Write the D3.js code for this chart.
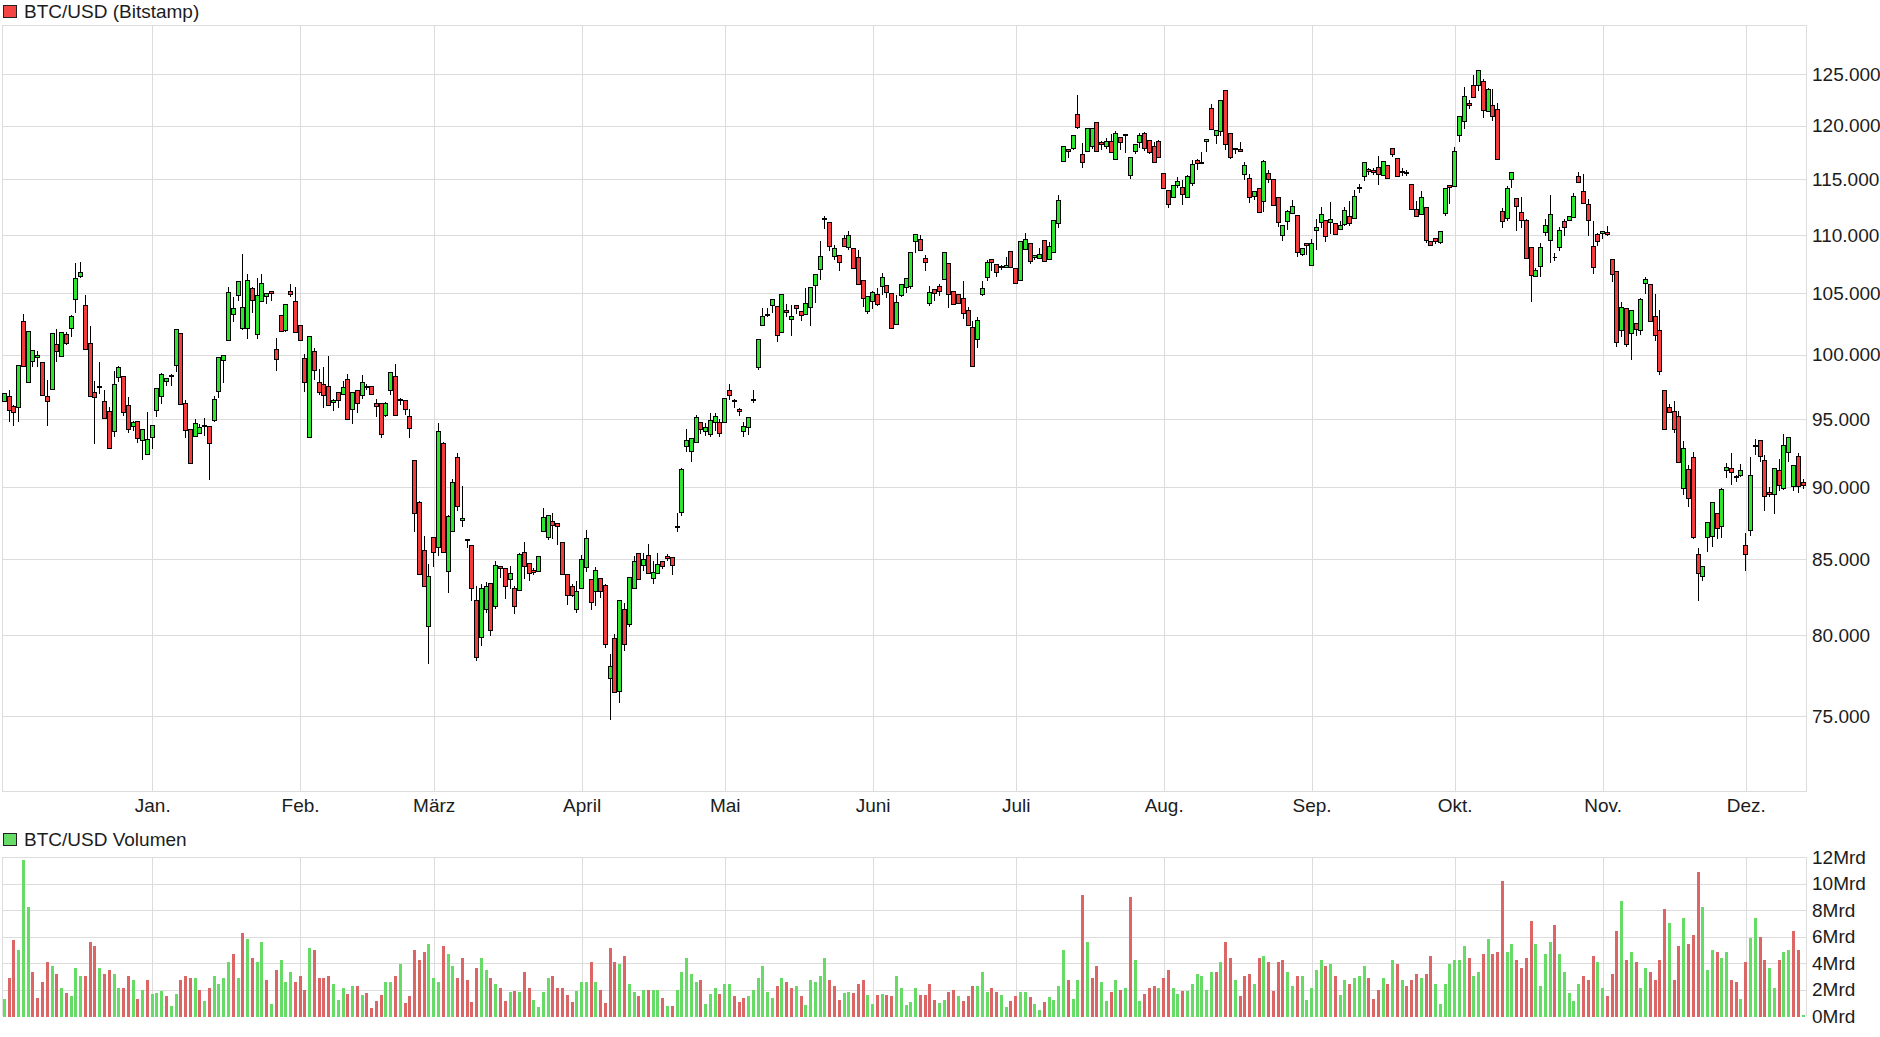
<!DOCTYPE html>
<html>
<head>
<meta charset="utf-8">
<title>BTC/USD</title>
<script src="https://cdn.jsdelivr.net/npm/d3@7"></script>
<style>
  html, body { margin: 0; background: #fff; overflow: hidden; }
  text { font-family: "Liberation Sans", Arial, sans-serif; font-size: 19px; fill: #1c1c1c; }
  .axis line, .frame { stroke: #dcdcdc; shape-rendering: crispEdges; }
  .axis path { display: none; }
  .axis text { font-size: 19px; }
</style>
</head>
<body>
<svg id="chart" width="1880" height="1037"></svg>
<script>
// Candle values in thousand USD, one per day (red and green)
const highs = [
  97.03,97.29,96.12,99.17,103.39,101.94,100.40,100.40,99.45,98.07,
  101.77,102.18,101.85,101.94,103.31,107.62,107.76,104.92,102.42,97.99,
  99.48,97.29,96.02,98.78,99.17,98.36,96.80,94.93,94.85,94.34,
  95.62,94.56,97.42,98.67,98.23,98.52,102.10,101.85,96.56,94.34,
  95.08,94.73,95.16,94.49,96.87,99.87,100,105.63,104.78,106.03,
  108.39,106.72,105.60,106.38,106.72,105,105.17,101.45,103.23,104.11,
  105.86,105.63,102.50,100.16,101.53,100.65,98.98,99.09,99.95,96.64,
  97.19,97.99,98.54,97.19,97.27,98.46,97.81,97.58,96.64,96.25,
  96.41,98.67,99.38,96.72,96.56,95.86,
  91.99,89.10,86.62,84.76,86.53,94.80,93.38,88.08,90.66,92.57,
  90.15,86.46,86.02,83.29,83.36,83.55,83.36,84.93,84.54,84.41,
  84.61,83.29,85.49,86.25,84.74,84.47,85.21,88.57,88.13,88.26,
  87.50,86.18,84.01,83.42,83.62,85.35,87.08,83.68,84.54,83.75,
  83.42,78.89,80.13,82.24,82.17,83.88,85.28,85.42,85.49,86.06,
  84.93,85.44,84.87,85.42,85.21,88.26,91.47,
  94.36,93.60,95.39,94.78,94.78,95.55,95.55,95.08,
  96.64,97.76,96.64,95.94,94.85,95.16,97.34,101.37,103.90,103.90,
  104.60,103.95,104.92,104.19,104.11,104.03,103.55,105.52,105.52,106.64,
  109.55,111.79,111.16,109.22,108.28,110.09,110.45,108.88,108.79,106.12,
  104.76,105.26,105.52,106.81,105.69,105.00,104.92,105.78,106.38,108.55,
  110.09,110.09,108.36,105.69,105.34,105.86,108.55,107.59,105.17,104.92,
  106.12,103.95,102.82,103.14,106.15,107.93,108.02,107.50,107.50,108.19,
  108.62,107.16,109.48,110.27,109.31,108.36,108.97,109.55,109.48,111.34,
  113.66,118.02,117.83,119.15,123.01,118.40,119.81,119.81,120.48,118.59,
  118.87,119.34,119.62,118.96,119.34,117.08,118.30,119.43,119.53,118.59,
  118.49,118.77,115.66,114.02,114.46,115.28,115.03,115.47,116.82,116.98,
  117.64,118.77,122.21,119.72,122.50,123.46,119.34,117.92,118.52,116.70,
  115.57,113.93,114.20,116.89,115.94,115.09,113.39,110.89,112.32,113.21,
  111.79,108.88,109.31,109.74,111.52,112.53,111.34,113.04,111.07,111.34,
  112.59,113.07,114.11,114.64,116.60,116.13,116.13,117.26,116.70,116.32,
  117.92,117.08,116.13,115.94,114.55,113.13,114.02,112.50,109.48,109.74,
  110.45,114.20,114.46,118.02,120.96,123.85,122.60,125.00,125.50,124.62,
  123.75,123.65,122.31,112.50,114.46,115.66,113.30,113.42,111.52,108.97,
  107.24,109.40,111.46,113.60,108.53,110.80,111.52,111.70,113.84,115.75,
  115.57,113.30,111.34,110.27,110.36,110.89,107.93,106.90,104.35,103.79,
  103.63,102.58,104.68,106.47,105.78,105.00,103.71,97.34,96.25,96.43,
  95.70,93.46,91.64,92.60,85.83,84.54,87.57,88.96,88.19,90.00,
  91.84,92.57,90.96,91.76,86.81,92.28,93.60,93.53,92.43,90.07,
  91.47,92.13,93.97,93.68,91.62,92.57,90.66
];
const bodyTops = [
  97.03,96.77,95.99,99.17,102.74,101.94,100.40,100.00,99.45,96.80,
  101.77,100.89,101.85,101.69,103.15,106.29,106.81,104.03,100.97,97.11,
  97.53,96.41,95.62,97.73,99.06,98.36,96.09,94.78,94.85,94.26,
  93.53,94.56,97.42,98.44,98.20,98.39,102.10,101.77,96.25,94.26,
  94.71,94.41,94.56,94.49,96.56,99.84,100,105.09,103.79,106.03,
  103.87,106.12,105.43,104.84,105.86,105,105.17,100.48,103.23,104.11,
  105.17,104.35,102.42,99.77,101.53,100.32,97.89,97.66,97.58,96.48,
  97.11,97.50,98.05,97.11,97.27,97.89,97.58,97.58,96.25,96.25,
  96.25,98.67,98.36,96.56,96.48,95.23,
  91.99,88.96,85.63,83.88,86.53,94.12,93.24,87.99,90.37,92.21,
  87.85,86.39,85.97,82.30,83.03,83.16,83.36,84.61,84.52,84.41,
  84.08,83.09,85.35,85.49,84.74,84.28,85.21,87.92,88.06,87.64,
  87.50,86.18,84.01,83.22,82.89,85.00,86.46,83.68,84.28,83.75,
  83.29,78.09,79.81,82.24,81.71,83.82,84.87,85.42,85.00,85.28,
  84.14,84.67,84.87,85.21,85.14,87.29,91.32,
  93.46,93.60,95.16,94.78,94.41,94.93,95.23,94.78,
  96.64,97.27,96.48,95.78,94.49,95.16,96.56,101.29,103.14,103.31,
  104.52,103.95,104.92,103.63,103.14,104.03,103.55,104.19,105.52,106.64,
  108.19,111.46,111.16,108.88,108.28,109.74,110.00,108.88,108.10,106.12,
  104.76,105.09,104.92,106.38,105.69,105.00,104.27,105.78,106.29,108.55,
  110.09,109.66,108.02,105.09,105.34,105.60,108.55,107.59,105.17,104.92,
  104.60,103.63,102.26,102.82,105.43,107.67,107.93,107.50,107.30,107.41,
  108.62,107.16,109.48,109.66,109.31,108.22,108.36,109.55,109.05,111.34,
  113.13,118.02,117.83,119.15,121.15,117.36,119.81,119.81,120.38,118.40,
  118.49,118.49,119.34,118.96,119.21,117.08,118.21,119.15,119.34,118.59,
  118.11,118.49,115.57,114.02,114.46,114.82,114.29,115.28,116.42,116.79,
  116.60,118.77,121.73,119.62,122.50,123.46,119.25,117.92,117.83,116.32,
  115.09,113.93,114.20,116.70,115.57,115.00,113.39,110.89,112.14,112.59,
  111.79,108.88,109.31,109.31,110.71,111.87,111.34,111.43,111.07,110.89,
  112.23,111.70,113.48,114.29,116.60,115.94,115.85,116.13,116.70,116.32,
  117.92,116.98,115.75,115.66,114.55,112.32,113.39,112.50,109.48,109.74,
  110.36,114.20,114.46,117.64,120.96,122.88,122.21,123.94,125.40,124.33,
  123.56,122.02,121.63,112.14,114.20,115.66,113.30,112.05,111.34,108.97,
  106.98,108.97,110.89,111.87,108.10,110.45,111.25,111.70,113.48,115.28,
  113.93,112.77,109.05,110.09,110.36,110.27,107.93,106.90,103.87,103.79,
  103.63,102.58,104.52,106.21,105.78,103.15,102.02,97.27,95.94,95.62,
  95.23,92.87,91.32,92.21,85.35,84.54,87.57,88.96,88.19,89.86,
  91.47,91.40,90.81,91.25,85.97,90.88,93.09,93.46,91.99,89.65,
  91.40,91.25,93.09,93.68,91.62,92.28,90.37
];
const bodyBottoms = [
  96.38,95.70,95.55,95.94,99.14,97.89,99.53,99.84,96.87,96.41,
  97.34,100.32,99.92,100.94,102.18,104.52,106.47,100.48,96.80,96.72,
  97.47,95.08,92.87,94.12,98.28,95.55,94.26,94.49,93.60,93.46,
  92.43,93.68,95.70,96.80,97.94,98.33,99.22,96.17,94.19,91.76,
  93.75,93.97,94.51,93.24,94.93,97.16,99.61,101.21,103.31,104.84,
  102.18,102.18,104.44,101.69,104.35,104.76,105.00,99.69,101.94,102.02,
  104.92,101.85,101.21,97.89,93.68,98.83,97.11,96.87,96.09,96.33,
  96.48,96.95,95.00,95.78,96.25,96.87,97.50,96.95,96.02,93.90,
  95.31,97.27,95.31,96.48,95.78,94.34,
  88.19,84.01,83.16,80.59,85.49,85.83,85.49,84.21,86.94,88.68,
  87.71,86.32,83.09,78.64,79.88,81.71,80.33,81.91,84.41,83.16,
  83.68,81.91,82.96,84.54,84.08,84.14,84.21,86.88,86.53,87.36,
  87.29,84.01,82.63,82.57,81.71,83.03,84.47,82.17,82.83,82.89,
  79.44,77.35,76.48,76.54,79.44,80.72,83.09,83.68,84.61,84.08,
  83.75,84.08,84.54,85.07,84.61,87.22,88.26,
  93.01,92.65,93.31,94.27,94.12,93.90,94.78,93.97,
  94.78,96.85,96.41,95.62,94.12,94.41,96.48,99.06,102.42,103.23,
  104.01,101.61,101.85,103.47,102.90,103.79,103.23,103.31,103.87,105.69,
  107.07,111.40,109.05,108.19,107.67,109.05,108.97,107.16,105.78,104.60,
  103.55,104.35,104.11,105.60,105.09,102.18,102.50,104.84,105.52,105.60,
  109.48,108.72,107.67,104.19,105.00,105.17,106.21,104.92,104.11,104.19,
  103.39,102.42,99.14,101.29,104.92,106.38,107.67,106.81,107.24,107.24,
  107.24,105.86,106.12,108.79,107.76,108.10,108.02,107.76,107.93,108.55,
  111.07,116.70,117.64,117.92,119.91,116.60,117.64,118.02,117.64,118.21,
  118.11,117.55,116.89,118.40,119.15,115.38,117.64,118.40,117.92,117.55,
  116.60,117.08,114.20,112.77,113.39,114.46,113.66,113.39,114.64,116.51,
  116.51,118.49,119.72,119.15,119.53,118.30,117.04,117.80,117.64,115.47,
  113.39,113.48,112.05,113.04,115.00,112.68,111.16,110.00,111.25,111.96,
  108.53,108.36,109.14,107.41,110.45,111.16,109.91,111.16,110.09,110.54,
  110.98,111.07,111.52,114.23,115.28,115.75,115.66,115.47,115.38,115.09,
  117.36,115.28,115.66,115.53,112.32,111.70,111.87,109.57,109.14,109.48,
  109.40,111.96,114.29,114.38,119.06,120.48,122.02,122.79,123.94,121.54,
  121.44,120.96,116.89,111.25,111.52,115.00,112.59,111.34,108.02,106.55,
  106.47,107.33,110.27,109.57,108.05,108.97,110.71,111.34,111.61,114.73,
  112.86,111.34,107.24,109.48,110.18,110.09,106.64,101.05,102.02,100.89,
  101.77,102.10,102.02,105.86,102.74,101.61,98.75,94.26,95.55,94.26,
  91.84,89.93,89.24,86.53,84.08,83.88,86.53,86.60,87.15,87.29,
  91.25,91.10,90.76,90.88,85.35,87.01,93.01,92.28,89.37,89.51,
  89.51,90.15,89.93,92.57,90.07,90.07,90.15
];
const lows = [
  96.38,94.90,94.53,94.90,99.14,97.89,99.09,99.09,96.87,94.58,
  97.34,99.48,99.92,100.86,101.48,103.49,106.35,100.48,96.80,93.21,
  96.98,95.08,92.87,93.73,97.92,95.34,94.02,94.22,93.28,92.03,
  92.43,92.84,95.26,96.20,97.60,97.60,98.70,96.17,93.63,91.76,
  93.73,93.97,93.80,90.56,94.85,96.67,97.84,101.21,102.69,104.41,
  102.10,101.34,103.49,101.34,104.35,104.22,104.46,98.78,101.94,101.94,
  104.78,101.85,101.21,97.14,93.68,98.05,96.90,95.96,96.09,95.73,
  95.96,96.95,95.00,94.73,95.57,96.59,97.34,96.95,95.26,93.65,
  95.21,96.93,95.31,96.17,95.39,93.70,
  86.90,84.01,83.16,78.25,84.52,85.25,85.49,82.81,86.94,88.38,
  87.25,85.81,82.28,78.43,79.40,81.49,80.02,81.75,83.82,82.41,
  83.07,81.43,82.96,83.75,83.60,83.99,84.21,86.88,86.37,86.46,
  86.02,84.01,82.02,82.50,81.49,83.03,84.21,81.69,81.95,82.48,
  79.24,74.86,76.48,75.84,79.07,80.59,83.09,83.68,84.25,84.08,
  83.40,84.08,84.39,84.93,83.99,86.90,88.03,
  92.60,91.89,93.31,93.97,93.82,93.73,94.22,93.73,
  94.78,96.51,95.91,95.29,93.73,93.87,96.30,98.88,102.42,103.12,
  103.44,101.10,101.85,103.12,101.59,103.39,102.80,103.31,102.39,104.25,
  106.18,110.60,108.68,107.93,106.95,109.05,108.79,107.16,105.78,103.98,
  103.36,103.82,104.03,104.92,104.70,102.18,102.50,104.76,105.14,105.43,
  108.55,108.72,107.01,104.01,104.41,104.87,106.21,103.84,104.11,104.19,
  102.98,102.42,99.14,100.65,104.84,106.09,106.95,106.49,107.07,107.24,
  107.24,105.86,106.12,108.79,107.59,107.93,107.96,107.76,107.93,108.55,
  110.68,116.70,117.01,117.83,119.78,116.10,117.64,117.92,117.64,117.83,
  117.92,117.55,116.89,117.74,117.52,115.06,117.42,117.99,117.70,117.45,
  116.60,117.08,114.20,112.47,113.39,114.26,112.74,113.39,114.46,115.91,
  116.51,117.58,119.72,118.37,119.06,117.80,116.95,117.42,117.64,114.97,
  112.92,113.18,112.05,112.14,114.73,112.68,110.77,109.54,110.51,111.96,
  108.16,108.28,108.33,107.41,108.76,110.74,109.45,110.18,110.09,110.54,
  110.86,110.89,111.52,113.81,114.88,115.44,115.47,114.52,115.38,115.09,
  117.14,115.28,115.41,115.35,112.32,111.70,111.87,109.40,109.08,109.31,
  109.31,111.79,112.86,114.38,118.55,119.78,121.67,122.79,123.40,120.83,
  121.44,120.54,116.89,110.68,111.31,114.26,110.42,110.68,108.02,104.33,
  106.47,106.44,109.97,107.64,107.79,108.71,109.97,111.34,111.61,114.73,
  112.86,109.97,106.70,109.14,109.71,109.97,106.01,100.73,101.51,100.73,
  99.69,101.61,101.69,105.00,102.74,101.21,98.49,94.26,95.55,94.04,
  91.84,89.49,88.66,86.46,82.28,83.60,85.53,85.88,86.46,86.53,
  90.71,90.20,90.42,90.78,84.28,86.67,92.43,91.89,88.38,89.35,
  88.17,89.77,89.86,91.86,89.77,89.65,89.91
];
// g = green body, r = red body, d = doji (flat body)
const candleColors = [
  "grrgrgggrr","grgrgggrrr","drrggrrgrg","gggggdgrrr","ggdrgggggg",
  "ggrgggrrrg","rrrrgrrrrg","rgrgrgdrrr","ggrdrrrrrg","rgrggrgdrr",
  "ggrgrrgrgr","rrgggrrrrr","gggrgrrgrg","rggrgrggrr","rdggggrggg",
  "rgrdrggdgg","dgrgrgrrgg","ggdrgrrgrr","rggrgrrggg","ggrrgrrgrr",
  "rrrrgggrrd","grrggrdgrg","gggrgrrggr","rgrgrdgggr","rrrrrggrgg",
  "rdgrggrrdr","grgrgrrrgg","grgrgggrgr","ggrgdgrrrg","rrrdrrrgrr",
  "rggrgggrrg","rgrrrggrrr","rggggdgrgg","rrrrrgrrrg","rgrggrrrrr",
  "rrgrrrgggr","ggrdgrgdrr","rgrgggrr"
].join("");

// Volume in Mrd, one bar per day
const volumes = [
  1.25,2.85,5.7,4.95,11.8,8.2,3.35,1.35,2.55,4.05,
  3.75,3.2,2.1,1.7,1.5,3.6,3.0,3.0,5.6,5.3,
  3.65,3.15,3.45,3.2,2.15,2.1,3.0,2.7,1.25,2.0,
  2.75,1.65,1.7,1.85,1.5,0.75,1.65,2.75,3.05,2.9,
  2.9,1.95,1.1,2.15,3.0,2.45,2.9,4.1,4.65,2.9,
  6.25,5.8,4.35,4.05,5.6,2.75,0.9,3.45,4.2,2.55,
  3.35,2.55,3.0,1.95,5.1,5.0,2.85,2.9,3.05,2.4,
  1.2,2.1,1.65,2.25,2.25,1.55,1.7,0.6,1.1,1.55,
  2.55,2.55,3.05,3.95,0.95,1.5,5.0,4.2,4.85,5.4,
  2.9,2.55,5.3,4.7,3.8,2.9,4.35,2.7,1.05,3.65,
  4.35,3.45,2.9,2.45,2.1,1.1,1.8,1.85,1.8,3.3,
  2.15,1.2,0.65,1.8,2.9,3.0,2.15,2.15,1.55,1.05,
  1.85,2.6,2.6,4.05,2.6,2.0,0.95,5.1,4.1,3.9,
  4.5,2.4,1.8,1.5,1.95,1.95,2.0,1.95,1.35,0.75,
  0.75,1.95,3.35,4.4,3.2,2.55,2.75,0.9,1.65,2.15,
  1.65,2.45,2.45,1.5,1.05,1.35,1.5,2.0,2.85,3.75,
  1.8,1.35,2.25,2.9,2.55,2.1,2.25,1.5,0.8,2.75,
  2.55,3.05,4.35,2.7,2.3,1.2,1.7,1.8,1.7,2.45,
  2.7,1.55,0.9,1.55,1.65,1.55,1.5,3.05,2.1,0.8,
  1.05,2.15,1.55,1.55,2.45,1.2,0.95,1.2,1.8,2.0,
  1.5,1.1,1.5,2.25,2.3,3.35,1.8,2.1,1.8,1.55,
  0.65,1.1,1.5,1.8,1.8,1.4,0.9,0.45,1.05,1.4,
  1.2,2.3,4.95,2.7,1.25,2.75,9.1,5.6,2.9,3.75,
  2.6,1.1,1.8,2.75,1.95,2.1,8.95,4.25,1.1,1.65,
  2.1,2.3,2.15,2.9,3.5,2.1,1.65,1.85,1.85,2.45,
  3.2,3.05,1.95,3.3,3.3,4.1,5.6,4.35,2.7,1.5,
  3.0,3.2,2.45,4.4,4.55,4.05,1.85,4.05,4.2,3.3,
  2.25,3.0,3.05,1.2,2.15,3.45,4.2,3.75,3.9,3.0,
  1.55,2.7,2.45,2.85,3.05,3.75,2.9,1.25,2.0,2.9,
  2.45,4.2,3.9,2.75,2.25,2.75,3.15,2.9,3.15,4.55,
  2.45,0.9,2.4,3.95,4.2,4.25,5.3,4.35,3.05,3.35,
  4.7,5.8,4.7,4.85,10.2,4.8,5.4,4.25,3.65,4.35,
  7.2,5.4,2.3,4.7,5.55,6.9,4.65,3.35,1.7,1.1,
  2.4,3.0,2.7,4.5,4.1,2.1,1.5,3.2,6.4,8.65,
  4.2,4.85,4.1,2.15,3.6,3.3,2.75,4.25,8.1,7.05,
  2.75,5.25,7.4,5.45,6.15,10.9,8.2,3.5,5.0,4.8,
  4.35,4.8,2.75,2.55,1.25,4.1,5.9,7.4,6.0,4.2,
  3.65,2.1,4.25,4.85,5.0,6.4,4.95,0.05
];
const volumeColors = [
  "grrgggrrrr","grgrgggrrr","grrggrrgrg","rgggrggrrr","grgrggggrg",
  "rgrggrgrgg","grrrgrrrrg","ggrgrgrrrr","ggrgrrrrrg","ggrggrrrrr",
  "ggrgrrgrgr","rggggrrrrr","gggrgrrrrg","rggrgrggrg","rgggggrggg",
  "rggrrrgggg","ggrgrrgrgg","gggrrrggrr","rggrgrrggg","ggrrrrggrr",
  "grrrgggrrg","grrggrggrg","gggrggrgrr","ggrgrgrggr","rrgrrggrgg",
  "ggggrgrrgr","rrgrgrrrrg","grgggggrgr","ggrgggrrrg","rgrgrrrgrr",
  "gggggggrgg","rgrrrggrrr","rggggrgggg","grrrggrrrg","rgrggrrrrg",
  "rrgrrrgggr","ggrrgrggrr","ggrggrrg"
].join("");

const monthLabels = ["Jan.", "Feb.", "März", "April", "Mai", "Juni", "Juli", "Aug.", "Sep.", "Okt.", "Nov.", "Dez."];
const monthStarts = [31, 62, 90, 121, 151, 182, 212, 243, 274, 304, 335, 365];
const priceTicks = [75, 80, 85, 90, 95, 100, 105, 110, 115, 120, 125];
const volumeTicks = [0, 2, 4, 6, 8, 10, 12];

const left = 2, right = 1806;
const priceTop = 25, priceBottom = 791;
const volumeTop = 857, volumeBottom = 1016;

const x = d3.scaleLinear().domain([0, 377]).range([4.3, 1803]);
const y = d3.scaleLog().domain([75, 125]).range([716.28, 74.28]);
const yVolume = d3.scaleLinear().domain([0, 12]).range([volumeBottom, volumeTop]);

const german = d3.formatLocale({ decimal: ",", thousands: ".", grouping: [3], currency: ["", "€"] });
const formatPrice = german.format(",");

const px = v => Math.round(v) + 0.5;
const fillGreen = "#2de52d", fillRed = "#f43b3b";

const svg = d3.select("#chart");

// Panel frames, the volume panel has no bottom line
svg.append("rect")
  .attr("class", "frame")
  .attr("x", left + 0.5).attr("y", priceTop + 0.5)
  .attr("width", right - left).attr("height", priceBottom - priceTop)
  .attr("fill", "none");

svg.append("path")
  .attr("class", "frame")
  .attr("fill", "none")
  .attr("d", `M${left + 0.5},${volumeBottom}V${volumeTop + 0.5}H${right + 0.5}V${volumeBottom}`);

// Axes double as the grid lines
svg.append("g")
  .attr("class", "axis")
  .attr("transform", `translate(0,${priceBottom})`)
  .call(d3.axisBottom(x)
    .tickValues(monthStarts)
    .tickSizeInner(-(priceBottom - priceTop))
    .tickSizeOuter(0)
    .tickPadding(8)
    .tickFormat((d, i) => monthLabels[i]));

svg.append("g")
  .attr("class", "axis")
  .attr("transform", `translate(0,${volumeBottom})`)
  .call(d3.axisBottom(x)
    .tickValues(monthStarts)
    .tickSizeInner(-(volumeBottom - volumeTop))
    .tickSizeOuter(0)
    .tickFormat(""));

svg.append("g")
  .attr("class", "axis")
  .attr("transform", `translate(${right},0)`)
  .call(d3.axisRight(y)
    .tickValues(priceTicks)
    .tickSizeInner(-(right - left))
    .tickSizeOuter(0)
    .tickPadding(6)
    .tickFormat(d => formatPrice(d * 1000)));

svg.append("g")
  .attr("class", "axis")
  .attr("transform", `translate(${right},0)`)
  .call(d3.axisRight(yVolume)
    .tickValues(volumeTicks)
    .tickSizeInner(-(right - left))
    .tickSizeOuter(0)
    .tickPadding(6)
    .tickFormat(d => d + "Mrd"))
  .selectAll(".tick line")
  .filter(d => d === 0)
  .remove();

// Volume bars
svg.append("g")
  .attr("shape-rendering", "crispEdges")
  .selectAll("rect")
  .data(volumes)
  .enter()
  .append("rect")
  .attr("x", (d, i) => Math.floor(x(i)) - 1)
  .attr("y", d => yVolume(d))
  .attr("width", 3)
  .attr("height", d => yVolume(0) - yVolume(d) + 1)
  .attr("fill", (d, i) => volumeColors[i] === "g" ? "#66dc66" : "#dc6666");

// Candles: wick first, body over it
const candles = svg.append("g")
  .selectAll("g")
  .data(highs)
  .enter()
  .append("g")
  .attr("shape-rendering", "crispEdges")
  .attr("stroke", "#000")
  .attr("stroke-width", 1);

candles.append("line")
  .attr("x1", (d, i) => Math.floor(x(i)) + 0.5)
  .attr("x2", (d, i) => Math.floor(x(i)) + 0.5)
  .attr("y1", d => px(y(d)))
  .attr("y2", (d, i) => px(y(lows[i])));

candles.append("path")
  .attr("fill", (d, i) => candleColors[i] === "r" ? fillRed : fillGreen)
  .attr("d", (d, i) => {
    const cx = Math.floor(x(i)) + 0.5;
    const t = px(y(bodyTops[i]));
    const b = px(y(bodyBottoms[i]));
    return `M${cx - 2},${t}H${cx + 2}V${b}H${cx - 2}Z`;
  });

// Legends
const legends = [
  { label: "BTC/USD (Bitstamp)", color: "#f44444", top: 5, base: 18 },
  { label: "BTC/USD Volumen", color: "#66dc66", top: 833, base: 846 }
];
legends.forEach(l => {
  svg.append("rect")
    .attr("x", 3.5).attr("y", l.top + 0.5)
    .attr("width", 13).attr("height", 12)
    .attr("fill", l.color)
    .attr("stroke", "#222");
  svg.append("text")
    .attr("x", 24).attr("y", l.base)
    .text(l.label);
});
</script>
</body>
</html>
